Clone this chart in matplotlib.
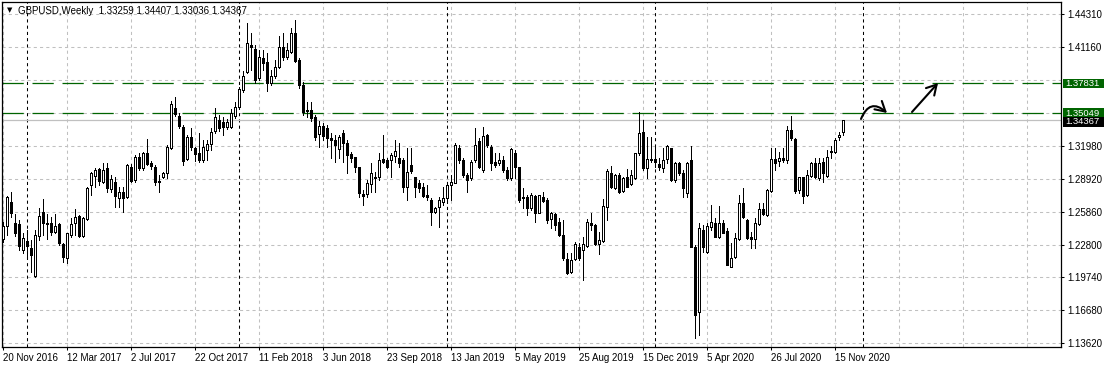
import numpy as np
import pandas as pd
import matplotlib
matplotlib.use('Agg')
import matplotlib.pyplot as plt
from matplotlib.patches import Rectangle

plt.rcParams['font.family'] = ['Liberation Sans', 'DejaVu Sans']

symbol = 'GBPUSD,Weekly'
first_week = '2016-11-13'

# weekly OHLC, one value per bar starting 13 Nov 2016
opens = [
    1.2509, 1.2332, 1.2453, 1.2676, 1.2481, 1.2471, 1.2229, 1.2313, 1.2248, 1.1987,
    1.2360, 1.2583, 1.2481, 1.2481, 1.2397, 1.2471, 1.2285, 1.2154, 1.2369, 1.2481,
    1.2546, 1.2360, 1.2518, 1.2835, 1.2919, 1.2984, 1.2863, 1.2993, 1.2798, 1.2863,
    1.2714, 1.2770, 1.2723, 1.3003, 1.2881, 1.3096, 1.2993, 1.3133, 1.3040, 1.3003,
    1.2872, 1.2909, 1.2947, 1.3180, 1.3552, 1.3478, 1.3375, 1.3077, 1.3282, 1.3180,
    1.3133, 1.3068, 1.3161, 1.3217, 1.3338, 1.3441, 1.3422, 1.3375, 1.3375, 1.3478,
    1.3562, 1.3720, 1.3888, 1.4140, 1.4102, 1.3832, 1.4018, 1.3981, 1.3785, 1.3851,
    1.3935, 1.4121, 1.4028, 1.4074, 1.4251, 1.4000, 1.3767, 1.3534, 1.3534, 1.3469,
    1.3310, 1.3385, 1.3366, 1.3273, 1.3254, 1.3170, 1.3319, 1.3226, 1.3124, 1.3096,
    1.3003, 1.2751, 1.2751, 1.2844, 1.2900, 1.2909, 1.3077, 1.3068, 1.3068, 1.3105,
    1.3086, 1.3068, 1.2816, 1.3021, 1.2909, 1.2853, 1.2816, 1.2742, 1.2695, 1.2583,
    1.2630, 1.2676, 1.2714, 1.2835, 1.2853, 1.3180, 1.3068, 1.2928, 1.2900, 1.3068,
    1.3245, 1.2975, 1.3301, 1.3189, 1.3049, 1.3040, 1.3068, 1.2975, 1.2900, 1.3133,
    1.3003, 1.2723, 1.2723, 1.2620, 1.2732, 1.2574, 1.2723, 1.2695, 1.2518, 1.2565,
    1.2490, 1.2369, 1.2145, 1.2024, 1.2145, 1.2257, 1.2229, 1.2266, 1.2481, 1.2462,
    1.2285, 1.2313, 1.2630, 1.2947, 1.2807, 1.2928, 1.2779, 1.2909, 1.2844, 1.2900,
    1.3133, 1.3329, 1.2993, 1.3068, 1.3077, 1.3031, 1.2993, 1.3077, 1.3180, 1.2881,
    1.3040, 1.2947, 1.2760, 1.3068, 1.2257, 1.1651, 1.2415, 1.2210, 1.2443, 1.2481,
    1.2350, 1.2481, 1.2406, 1.2071, 1.2164, 1.2332, 1.2667, 1.2509, 1.2350, 1.2332,
    1.2471, 1.2611, 1.2555, 1.2779, 1.3077, 1.3059, 1.3086, 1.3068, 1.3347, 1.3263,
    1.2788, 1.2909, 1.2742, 1.2919, 1.3040, 1.2900, 1.3049, 1.2919, 1.3142, 1.3142,
    1.3282, 1.33259,
]
highs = [
    1.2565, 1.2490, 1.2732, 1.2770, 1.2565, 1.2509, 1.2387, 1.2415, 1.2322, 1.2415,
    1.2620, 1.2704, 1.2565, 1.2537, 1.2565, 1.2481, 1.2294, 1.2387, 1.2527, 1.2611,
    1.2555, 1.2537, 1.2816, 1.2956, 1.2993, 1.2993, 1.3040, 1.3040, 1.2928, 1.2909,
    1.2816, 1.2816, 1.3031, 1.3031, 1.3114, 1.3133, 1.3142, 1.3263, 1.3059, 1.3021,
    1.2928, 1.2956, 1.3208, 1.3618, 1.3655, 1.3506, 1.3394, 1.3301, 1.3366, 1.3189,
    1.3319, 1.3254, 1.3254, 1.3366, 1.3552, 1.3487, 1.3469, 1.3450, 1.3543, 1.3608,
    1.3748, 1.3897, 1.4345, 1.4251, 1.4140, 1.4093, 1.4093, 1.4065, 1.3907, 1.4000,
    1.4224, 1.4251, 1.4158, 1.4298, 1.4373, 1.4018, 1.3795, 1.3608, 1.3608, 1.3487,
    1.3431, 1.3413, 1.3394, 1.3319, 1.3301, 1.3301, 1.3347, 1.3254, 1.3142, 1.3096,
    1.3003, 1.2788, 1.2881, 1.3040, 1.2956, 1.3133, 1.3301, 1.3086, 1.3133, 1.3254,
    1.3226, 1.3086, 1.3180, 1.3180, 1.2909, 1.2881, 1.2853, 1.2835, 1.2714, 1.2630,
    1.2723, 1.2816, 1.2853, 1.2928, 1.3226, 1.3208, 1.3086, 1.2947, 1.3068, 1.3366,
    1.3273, 1.3375, 1.3310, 1.3208, 1.3133, 1.3133, 1.3105, 1.3003, 1.3180, 1.3161,
    1.3003, 1.2807, 1.2742, 1.2760, 1.2742, 1.2742, 1.2770, 1.2714, 1.2583, 1.2574,
    1.2527, 1.2509, 1.2201, 1.2201, 1.2304, 1.2294, 1.2350, 1.2518, 1.2574, 1.2471,
    1.2397, 1.2704, 1.2984, 1.3012, 1.2937, 1.2947, 1.2909, 1.2984, 1.2975, 1.3133,
    1.3515, 1.3441, 1.3282, 1.3282, 1.3208, 1.3086, 1.3180, 1.3208, 1.3180, 1.3049,
    1.3049, 1.2975, 1.3049, 1.3198, 1.2276, 1.2481, 1.2462, 1.2481, 1.2648, 1.2527,
    1.2639, 1.2509, 1.2434, 1.2294, 1.2387, 1.2742, 1.2807, 1.2518, 1.2397, 1.2527,
    1.2667, 1.2667, 1.2798, 1.3180, 1.3180, 1.3142, 1.3180, 1.3385, 1.3478, 1.3273,
    1.2909, 1.2909, 1.2975, 1.3049, 1.3086, 1.3086, 1.3086, 1.3161, 1.3198, 1.3273,
    1.3329, 1.34407,
]
lows = [
    1.2397, 1.2304, 1.2369, 1.2537, 1.2360, 1.2229, 1.2201, 1.2164, 1.2024, 1.1977,
    1.2322, 1.2369, 1.2332, 1.2369, 1.2387, 1.2276, 1.2117, 1.2108, 1.2350, 1.2369,
    1.2350, 1.2350, 1.2509, 1.2742, 1.2816, 1.2835, 1.2853, 1.2770, 1.2770, 1.2630,
    1.2630, 1.2583, 1.2714, 1.2863, 1.2863, 1.2975, 1.2975, 1.3021, 1.2984, 1.2835,
    1.2770, 1.2900, 1.2900, 1.3170, 1.3478, 1.3366, 1.3021, 1.3068, 1.3161, 1.3059,
    1.3049, 1.3049, 1.3068, 1.3161, 1.3319, 1.3338, 1.3301, 1.3357, 1.3366, 1.3459,
    1.3552, 1.3702, 1.3879, 1.3907, 1.3785, 1.3813, 1.3907, 1.3711, 1.3767, 1.3832,
    1.3925, 1.4000, 1.4009, 1.4065, 1.3981, 1.3739, 1.3487, 1.3469, 1.3431, 1.3254,
    1.3189, 1.3254, 1.3189, 1.3086, 1.3049, 1.3086, 1.3049, 1.2947, 1.3049, 1.2956,
    1.2723, 1.2648, 1.2723, 1.2770, 1.2770, 1.2881, 1.3040, 1.2993, 1.2909, 1.3049,
    1.3003, 1.2770, 1.2695, 1.2947, 1.2723, 1.2770, 1.2723, 1.2695, 1.2462, 1.2574,
    1.2443, 1.2648, 1.2667, 1.2695, 1.2853, 1.3040, 1.2909, 1.2770, 1.2881, 1.3049,
    1.2993, 1.2956, 1.3189, 1.2975, 1.3003, 1.3021, 1.2956, 1.2881, 1.2881, 1.2900,
    1.2676, 1.2620, 1.2555, 1.2602, 1.2490, 1.2574, 1.2676, 1.2481, 1.2434, 1.2415,
    1.2360, 1.2136, 1.2005, 1.2015, 1.2136, 1.2136, 1.1949, 1.2257, 1.2415, 1.2276,
    1.2192, 1.2304, 1.2509, 1.2807, 1.2798, 1.2760, 1.2770, 1.2816, 1.2835, 1.2891,
    1.3114, 1.2975, 1.2900, 1.3049, 1.3003, 1.2975, 1.2956, 1.3040, 1.2872, 1.2863,
    1.2928, 1.2723, 1.2723, 1.2257, 1.1409, 1.1437, 1.2210, 1.2201, 1.2415, 1.2350,
    1.2341, 1.2387, 1.2089, 1.2071, 1.2154, 1.2322, 1.2527, 1.2332, 1.2248, 1.2248,
    1.2462, 1.2555, 1.2546, 1.2770, 1.2975, 1.3012, 1.3049, 1.3040, 1.3254, 1.2760,
    1.2760, 1.2667, 1.2732, 1.2909, 1.2900, 1.2881, 1.2863, 1.2909, 1.3086, 1.3133,
    1.3254, 1.33036,
]
closes = [
    1.2453, 1.2453, 1.2723, 1.2574, 1.2387, 1.2266, 1.2341, 1.2266, 1.2182, 1.2369,
    1.2546, 1.2481, 1.2471, 1.2397, 1.2453, 1.2294, 1.2164, 1.2387, 1.2471, 1.2537,
    1.2360, 1.2527, 1.2807, 1.2947, 1.2975, 1.2872, 1.2975, 1.2807, 1.2891, 1.2732,
    1.2770, 1.2714, 1.3021, 1.2872, 1.3096, 1.2993, 1.3133, 1.3031, 1.3012, 1.2863,
    1.2863, 1.2947, 1.3189, 1.3590, 1.3496, 1.3385, 1.3059, 1.3282, 1.3189, 1.3124,
    1.3068, 1.3189, 1.3217, 1.3329, 1.3469, 1.3366, 1.3375, 1.3422, 1.3506, 1.3562,
    1.3730, 1.3851, 1.4158, 1.4121, 1.3813, 1.4028, 1.3972, 1.3785, 1.3851, 1.3935,
    1.4121, 1.4028, 1.4093, 1.4251, 1.3990, 1.3767, 1.3515, 1.3524, 1.3459, 1.3282,
    1.3385, 1.3291, 1.3273, 1.3254, 1.3208, 1.3282, 1.3226, 1.3114, 1.3086, 1.3003,
    1.2760, 1.2732, 1.2853, 1.2947, 1.2909, 1.3068, 1.3049, 1.3003, 1.3114, 1.3152,
    1.3040, 1.2816, 1.2956, 1.2965, 1.2816, 1.2807, 1.2732, 1.2723, 1.2583, 1.2620,
    1.2695, 1.2714, 1.2835, 1.2863, 1.3208, 1.3068, 1.2928, 1.2881, 1.3049, 1.3208,
    1.3003, 1.3291, 1.3208, 1.3040, 1.3021, 1.3068, 1.2975, 1.2900, 1.3170, 1.3003,
    1.2695, 1.2714, 1.2620, 1.2742, 1.2574, 1.2742, 1.2686, 1.2509, 1.2574, 1.2462,
    1.2369, 1.2154, 1.2015, 1.2136, 1.2285, 1.2154, 1.2285, 1.2490, 1.2462, 1.2285,
    1.2322, 1.2639, 1.2965, 1.2816, 1.2928, 1.2770, 1.2900, 1.2816, 1.2928, 1.3133,
    1.3319, 1.2993, 1.3077, 1.3073, 1.3049, 1.3003, 1.3068, 1.3198, 1.2881, 1.3040,
    1.2947, 1.2807, 1.3040, 1.2257, 1.1623, 1.2434, 1.2257, 1.2453, 1.2490, 1.2350,
    1.2481, 1.2387, 1.2089, 1.2154, 1.2341, 1.2667, 1.2537, 1.2341, 1.2332, 1.2481,
    1.2611, 1.2565, 1.2788, 1.3077, 1.3040, 1.3086, 1.3068, 1.3347, 1.3273, 1.2779,
    1.2909, 1.2732, 1.2928, 1.3040, 1.2909, 1.3040, 1.2947, 1.3096, 1.3152, 1.3254,
    1.3301, 1.34367,
]

date_labels = ['20 Nov 2016', '12 Mar 2017', '2 Jul 2017', '22 Oct 2017', '11 Feb 2018',
               '3 Jun 2018', '23 Sep 2018', '13 Jan 2019', '5 May 2019', '25 Aug 2019',
               '15 Dec 2019', '5 Apr 2020', '26 Jul 2020', '15 Nov 2020']
price_labels = [1.13620, 1.16680, 1.19740, 1.22800, 1.25860, 1.28920, 1.31980, 1.41160, 1.44310]
unlabeled_grid = [1.35040, 1.38100]
levels = [1.37831, 1.35049]
bid = closes[-1]

# hand drawn arrows: (x bar, price) start -> end
curve_arrow = [(214.5, 1.3450), (221.0, 1.3506)]
straight_arrow = [(227.25, 1.3515), (233.75, 1.3785)]

GRID = '#c0c0c0'
GREEN = '#006400'

weeks = pd.date_range(first_week, periods=len(opens), freq='7D')
bar_x = np.arange(len(opens)) - 1

o = np.array(opens)
h = np.array(highs)
l = np.array(lows)
c = np.array(closes)

fig = plt.figure(figsize=(11.07, 3.68), dpi=100)
ax = fig.add_axes([2 / 1107, 21 / 368, 1059 / 1107, 345 / 368])
ax.set_xlim(-0.25, 264.5)
ax.set_ylim(1.1325, 1.4540)

# grid
for v in np.arange(0, 265, 16):
    ax.axvline(v, color=GRID, lw=0.75, ls=(0, (3, 3)), zorder=0)
for p in price_labels + unlabeled_grid:
    ax.axhline(p, color=GRID, lw=0.75, ls=(0, (3, 3)), zorder=0)

# year separators
ext = pd.date_range(first_week, periods=280, freq='7D')
ext_x = np.arange(280) - 1
new_year = ext.year[1:] != ext.year[:-1]
for v in ext_x[1:][new_year]:
    if v < 265:
        ax.axvline(v, color='black', lw=0.75, ls=(0, (3, 3)), zorder=1)

# bid line and levels
ax.axhline(bid, color=GRID, lw=0.9, zorder=1)
for lev in levels:
    ax.axhline(lev, color=GREEN, lw=0.9, ls=(0, (17, 7)), zorder=2)

# candles
ax.vlines(bar_x, l, h, color='black', lw=0.6, zorder=3, antialiased=False)
up = c >= o
body_bottom = np.minimum(o, c)
body_h = np.abs(c - o)
ax.bar(bar_x, body_h, bottom=body_bottom, width=0.55,
       color=np.where(up, 'white', 'black'), edgecolor='black',
       linewidth=0.5, zorder=4, antialiased=False)

# arrows
head = '->,head_length=0.7,head_width=0.4'
ax.annotate('', xy=curve_arrow[1], xytext=curve_arrow[0],
            arrowprops=dict(arrowstyle=head, connectionstyle='arc3,rad=-0.7',
                            lw=1.5, color='black', shrinkA=0, shrinkB=0))
ax.annotate('', xy=straight_arrow[1], xytext=straight_arrow[0],
            arrowprops=dict(arrowstyle=head, lw=1.5, color='black',
                            shrinkA=0, shrinkB=0))

# axes styling
for s in ax.spines.values():
    s.set_color('black')
    s.set_linewidth(0.9)

ax.yaxis.tick_right()
ax.set_yticks(price_labels)
ax.set_yticklabels([f'{p:.5f}' for p in price_labels])
tick_x = [bar_x[weeks.get_loc(pd.to_datetime(d, format='%d %b %Y'))] for d in date_labels]
ax.set_xticks(tick_x)
ax.set_xticklabels(date_labels)
for lbl in ax.get_xticklabels():
    lbl.set_ha('left')
ax.tick_params(axis='both', labelsize=7, colors='black', length=2.5, width=0.75, direction='out')
ax.tick_params(axis='y', pad=2)
ax.tick_params(axis='x', pad=2)

# price tags on the right (bid tag sits just under the lower level tag)
per_px = (1.4540 - 1.1325) / 345
tags = [(levels[0], levels[0], GREEN), (levels[1], levels[1], GREEN),
        (bid, bid - 1.6 * per_px, 'black')]
for val, pos, col in tags:
    ax.add_patch(Rectangle((1.0019, pos - 4.6 * per_px), 0.0390, 9.2 * per_px,
                           transform=ax.get_yaxis_transform(), facecolor=col,
                           edgecolor='none', clip_on=False, zorder=5))
    ax.text(1.0045, pos, f'{val:.5f}', transform=ax.get_yaxis_transform(),
            color='white', fontsize=6.8, va='center', ha='left', zorder=6, clip_on=False)

# header
fig.text(7 / 1107, 1 - 10 / 368, '\u25bc', family='DejaVu Sans', fontsize=5,
         va='center', ha='left')
title = f'{symbol}  {opens[-1]:.5f} {highs[-1]:.5f} {lows[-1]:.5f} {closes[-1]:.5f}'
fig.text(18 / 1107, 1 - 11 / 368, title, fontsize=7, va='center', ha='left')

fig.savefig('out.png', dpi=100)
